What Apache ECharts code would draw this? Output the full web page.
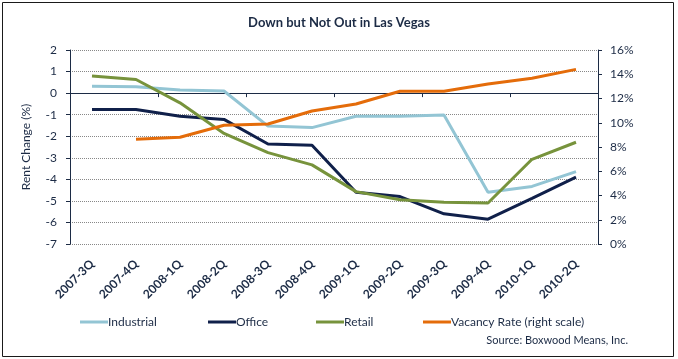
<!DOCTYPE html>
<html>
<head>
<meta charset="utf-8">
<script src="https://cdn.jsdelivr.net/npm/echarts@6/dist/echarts.min.js"></script>
<style>html,body{margin:0;padding:0;background:#fff}#c{width:678px;height:359px}</style>
</head>
<body>
<div id="c"></div>
<script>
var categories = ['2007-3Q','2007-4Q','2008-1Q','2008-2Q','2008-3Q','2008-4Q','2009-1Q','2009-2Q','2009-3Q','2009-4Q','2010-1Q','2010-2Q'];
var industrial = [0.32, 0.30, 0.14, 0.10, -1.53, -1.60, -1.07, -1.07, -1.02, -4.60, -4.33, -3.64];
var office = [-0.76, -0.76, -1.07, -1.22, -2.36, -2.42, -4.60, -4.80, -5.60, -5.85, -4.88, -3.90];
var retail = [0.79, 0.63, -0.45, -1.87, -2.76, -3.33, -4.57, -4.95, -5.06, -5.10, -3.07, -2.28];
var vacancy = [null, 8.63, 8.80, 9.79, 9.90, 10.97, 11.55, 12.60, 12.60, 13.20, 13.67, 14.40];
var leftTicks = {min: -7, max: 2, interval: 1};
var rightTicks = {min: 0, max: 16, interval: 2};

var txt = '#1c2b45';
var font = 'Lato';
var chart = echarts.init(document.getElementById('c'), null, {renderer: 'canvas'});
function legendItem(name, left) {
  return {
    data: [name], left: left, top: 316, itemWidth: 28, itemHeight: 3, icon: 'rect',
    itemGap: 0, padding: 0,
    textStyle: {fontFamily: font, fontSize: 12, color: txt, padding: [0, 0, 0, -5]}
  };
}
chart.setOption({
  animation: false,
  title: {
    text: 'Down but Not Out in Las Vegas', left: 'center', top: 11,
    textStyle: {fontFamily: font, fontSize: 13, fontWeight: 'bold', color: txt}
  },
  graphic: [
    {type: 'rect', shape: {x: 2.5, y: 2.5, width: 671, height: 354}, style: {fill: 'none', stroke: '#1a1a1a', lineWidth: 1}, silent: true},
    {type: 'text', right: 50, top: 335, style: {text: 'Source: Boxwood Means, Inc.', font: '11px Lato', fill: txt}}
  ],
  legend: [
    legendItem('Industrial', 80),
    legendItem('Office', 208),
    legendItem('Retail', 316),
    legendItem('Vacancy Rate (right scale)', 423)
  ],
  grid: {left: 70, right: 80, top: 50, bottom: 115},
  xAxis: [
    {
      type: 'category', data: categories, position: 'bottom',
      axisLine: {show: true, onZero: true, onZeroAxisIndex: 0, lineStyle: {color: '#1c2b45', width: 1}},
      axisTick: {show: true, inside: false, length: 4, lineStyle: {color: '#1c2b45'}},
      axisLabel: {show: false}, splitLine: {show: false}
    },
    {
      type: 'category', data: categories, position: 'bottom',
      axisLine: {show: false, onZero: false}, axisTick: {show: false},
      axisLabel: {rotate: 45, margin: 18, fontFamily: font, fontSize: 12, fontWeight: 'bold', color: txt, interval: 0},
      splitLine: {show: false}
    }
  ],
  yAxis: [
    {
      type: 'value', min: leftTicks.min, max: leftTicks.max, interval: leftTicks.interval,
      name: 'Rent Change (%)', nameLocation: 'middle', nameGap: 38, nameRotate: 90,
      nameTextStyle: {fontFamily: font, fontSize: 12, color: txt},
      axisLine: {show: true, onZero: false, lineStyle: {color: '#1c2b45'}},
      axisTick: {show: true, length: 4, lineStyle: {color: '#1c2b45'}},
      axisLabel: {fontFamily: font, fontSize: 12, color: txt, margin: 13},
      splitLine: {show: true, lineStyle: {type: [1, 1], color: '#888', width: 1}}
    },
    {
      type: 'value', min: rightTicks.min, max: rightTicks.max, interval: rightTicks.interval,
      position: 'right',
      axisLine: {show: true, onZero: false, lineStyle: {color: '#1c2b45'}},
      axisTick: {show: true, length: 4, lineStyle: {color: '#1c2b45'}},
      axisLabel: {fontFamily: font, fontSize: 12, color: txt, margin: 12, formatter: '{value}%'},
      splitLine: {show: false}
    }
  ],
  series: [
    {name: 'Industrial', type: 'line', data: industrial, symbol: 'none', lineStyle: {width: 3, color: '#93c5d4'}, itemStyle: {color: '#93c5d4'}},
    {name: 'Office', type: 'line', data: office, symbol: 'none', lineStyle: {width: 3, color: '#10204a'}, itemStyle: {color: '#10204a'}},
    {name: 'Retail', type: 'line', data: retail, symbol: 'none', lineStyle: {width: 3, color: '#77933c'}, itemStyle: {color: '#77933c'}},
    {name: 'Vacancy Rate (right scale)', type: 'line', yAxisIndex: 1, data: vacancy, symbol: 'none', lineStyle: {width: 3, color: '#e46c0a'}, itemStyle: {color: '#e46c0a'}}
  ]
});
</script>
</body>
</html>
